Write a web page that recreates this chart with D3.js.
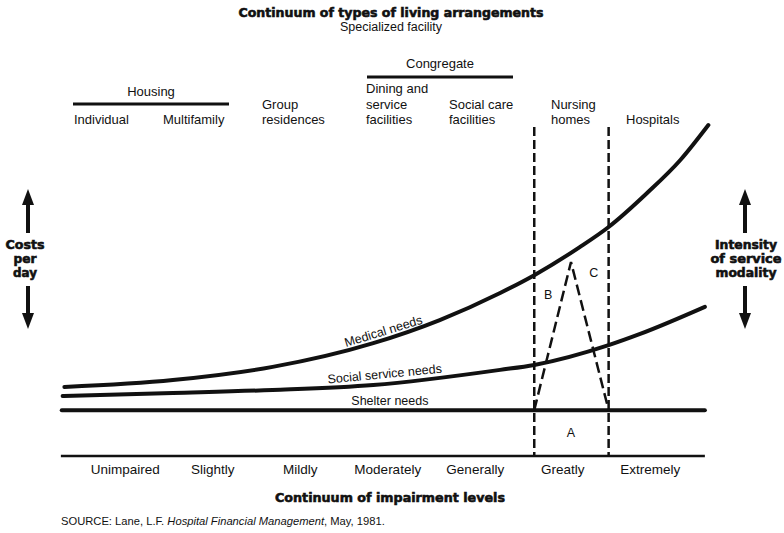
<!DOCTYPE html>
<html>
<head>
<meta charset="utf-8">
<script src="https://cdn.jsdelivr.net/npm/d3@7"></script>
<style>
  body { margin: 0; background: #fff; }
  svg { display: block; }
  text { font-family: "Liberation Sans", Arial, sans-serif; fill: #111; }
  .heavy { font-family: "DejaVu Sans", sans-serif; font-weight: 900; stroke: #111; stroke-width: 0.6; }
</style>
</head>
<body>
<script>
const width = 784;
const height = 533;

// impairment levels along the bottom
const impairmentLevels = ["Unimpaired", "Slightly", "Mildly", "Moderately", "Generally", "Greatly", "Extremely"];

// curves: [impairment position, cost index]
const medicalNeeds = [
  [-0.19, 20.9], [1.05, 23.0], [2.19, 27.0], [3.34, 34.2], [4.1, 41.2], [4.79, 49.4],
  [5.18, 54.8], [5.7, 63.3], [6.03, 69.4], [6.47, 79.7], [6.85, 89.7], [7.17, 100.3],
];
const socialNeeds = [
  [-0.21, 18.2], [1.05, 19.1], [2.19, 20.0], [3.34, 21.5], [4.79, 26.1],
  [5.18, 27.6], [6.03, 33.6], [6.39, 37.0], [7.13, 45.2],
];
const shelterNeeds = [[-0.22, 13.9], [7.13, 13.9]];
const nursingBounds = [5.18, 6.03];
const triangle = [[5.18, 13.9], [5.6, 58.8], [6.03, 13.9]];

// living arrangement labels (each line of a label)
const arrangements = [
  { lines: ["Individual"], x: 74 },
  { lines: ["Multifamily"], x: 163 },
  { lines: ["Group", "residences"], x: 262 },
  { lines: ["Dining and", "service", "facilities"], x: 366 },
  { lines: ["Social care", "facilities"], x: 449 },
  { lines: ["Nursing", "homes"], x: 551 },
  { lines: ["Hospitals"], x: 626 },
];
const groups = [
  { name: "Housing", x0: 73, x1: 229, labelY: 96, lineY: 104 },
  { name: "Congregate", x0: 367, x1: 513, labelY: 68, lineY: 77 },
];

const x = d3.scaleLinear().domain([0, 7]).range([81, 693.5]);
const y = d3.scaleLinear().domain([0, 100]).range([456, 126]);

const svg = d3
  .select("body")
  .append("svg")
  .attr("width", width)
  .attr("height", height)
  .attr("viewBox", [0, 0, width, height]);

// heavy text squeezed to the reference widths
function heavy(sel, size, len) {
  return sel
    .attr("class", "heavy")
    .attr("font-size", size)
    .attr("textLength", len)
    .attr("lengthAdjust", "spacingAndGlyphs");
}

// titles
svg.append("text")
  .attr("x", 391).attr("y", 17)
  .attr("text-anchor", "middle")
  .call(heavy, 12.5, 305)
  .text("Continuum of types of living arrangements");

svg.append("text")
  .attr("x", 391).attr("y", 31)
  .attr("text-anchor", "middle")
  .attr("font-size", 12.5)
  .text("Specialized facility");

// group brackets
const group = svg.append("g").selectAll("g").data(groups).join("g");
group.append("line")
  .attr("x1", (d) => d.x0).attr("x2", (d) => d.x1)
  .attr("y1", (d) => d.lineY).attr("y2", (d) => d.lineY)
  .attr("stroke", "#111").attr("stroke-width", 3);
group.append("text")
  .attr("x", (d) => (d.x0 + d.x1) / 2)
  .attr("y", (d) => d.labelY)
  .attr("text-anchor", "middle")
  .attr("font-size", 13)
  .text((d) => d.name);

// arrangement labels, bottom-aligned at y=124
svg.append("g")
  .selectAll("text")
  .data(arrangements)
  .join("text")
  .attr("font-size", 13)
  .attr("x", (d) => d.x)
  .each(function (d) {
    const n = d.lines.length;
    d3.select(this)
      .selectAll("tspan")
      .data(d.lines)
      .join("tspan")
      .attr("x", d.x)
      .attr("y", (_, i) => 124 - (n - 1 - i) * 15.5)
      .text((t) => t);
  });

// nursing home boundaries
svg.append("g")
  .selectAll("line")
  .data(nursingBounds)
  .join("line")
  .attr("x1", (d) => x(d)).attr("x2", (d) => x(d))
  .attr("y1", y(99.7)).attr("y2", y(0))
  .attr("stroke", "#111")
  .attr("stroke-width", 2.5)
  .attr("stroke-dasharray", "9,4");

const line = d3.line()
  .x((d) => x(d[0]))
  .y((d) => y(d[1]))
  .curve(d3.curveMonotoneX);

svg.append("g")
  .attr("fill", "none")
  .attr("stroke", "#111")
  .attr("stroke-width", 4)
  .attr("stroke-linecap", "round")
  .selectAll("path")
  .data([medicalNeeds, socialNeeds, shelterNeeds])
  .join("path")
  .attr("d", line);

svg.append("path")
  .attr("d", d3.line().x((d) => x(d[0])).y((d) => y(d[1]))(triangle))
  .attr("fill", "none")
  .attr("stroke", "#111")
  .attr("stroke-width", 2.5)
  .attr("stroke-dasharray", "11,5");

// curve labels
const curveLabels = [
  { text: "Medical needs", at: [3.47, 36.6], angle: -17 },
  { text: "Social service needs", at: [3.475, 23.6], angle: -5.4 },
  { text: "Shelter needs", at: [3.53, 15.4], angle: 0 },
];
svg.append("g")
  .selectAll("text")
  .data(curveLabels)
  .join("text")
  .attr("font-size", 12.5)
  .attr("text-anchor", "middle")
  .attr("transform", (d) => `translate(${x(d.at[0])},${y(d.at[1])}) rotate(${d.angle})`)
  .text((d) => d.text);

// region letters
const regions = [
  { text: "B", at: [5.34, 47.5] },
  { text: "C", at: [5.86, 54.2] },
  { text: "A", at: [5.6, 5.9] },
];
svg.append("g")
  .selectAll("text")
  .data(regions)
  .join("text")
  .attr("font-size", 12.5)
  .attr("text-anchor", "middle")
  .attr("x", (d) => x(d.at[0]))
  .attr("y", (d) => y(d.at[1]))
  .text((d) => d.text);

// bottom axis
svg.append("line")
  .attr("x1", x(-0.23)).attr("x2", x(7.13))
  .attr("y1", y(0)).attr("y2", y(0))
  .attr("stroke", "#111").attr("stroke-width", 2.5);

svg.append("g")
  .attr("transform", `translate(0,${y(0)})`)
  .call(
    d3.axisBottom(x)
      .tickValues(d3.range(impairmentLevels.length).map((i) => i + 0.5))
      .tickFormat((d, i) => impairmentLevels[i])
      .tickSize(0)
      .tickPadding(8)
  )
  .call((g) => g.select(".domain").remove())
  .call((g) => g.selectAll("text")
    .attr("font-size", 13.5)
    .attr("font-family", "Liberation Sans, Arial, sans-serif")
    .attr("fill", "#111"));

svg.append("text")
  .attr("x", 390).attr("y", 502)
  .attr("text-anchor", "middle")
  .call(heavy, 12.5, 230)
  .text("Continuum of impairment levels");

const source = svg.append("text")
  .attr("x", 61).attr("y", 525)
  .attr("font-size", 11.2);
source.append("tspan").text("SOURCE: Lane, L.F. ");
source.append("tspan").attr("font-style", "italic").text("Hospital Financial Management");
source.append("tspan").text(", May, 1981.");

// side arrows with labels
function arrow(g, cx, yBase, yTip) {
  const dir = yTip < yBase ? 1 : -1;
  const head = 16;
  const hw = 6;
  const sw = 2;
  const yh = yTip + dir * head;
  g.append("path")
    .attr("d", `M${cx - sw},${yBase} L${cx - sw},${yh} L${cx - hw},${yh} L${cx},${yTip} L${cx + hw},${yh} L${cx + sw},${yh} L${cx + sw},${yBase} Z`)
    .attr("fill", "#111");
}

const sides = [
  { cx: 28, tx: 25, lines: ["Costs", "per", "day"], widths: [39, 23, 24] },
  { cx: 745, tx: 746, lines: ["Intensity", "of service", "modality"], widths: [62, 71, 61] },
];
sides.forEach((s) => {
  const g = svg.append("g");
  arrow(g, s.cx, 233, 189);
  arrow(g, s.cx, 286, 329);
  g.selectAll("text")
    .data(s.lines)
    .join("text")
    .attr("text-anchor", "middle")
    .attr("x", s.tx)
    .attr("y", (_, i) => 249 + i * 14)
    .each(function (t, i) {
      d3.select(this).call(heavy, 12, s.widths[i]);
    })
    .text((t) => t);
});
</script>
</body>
</html>
